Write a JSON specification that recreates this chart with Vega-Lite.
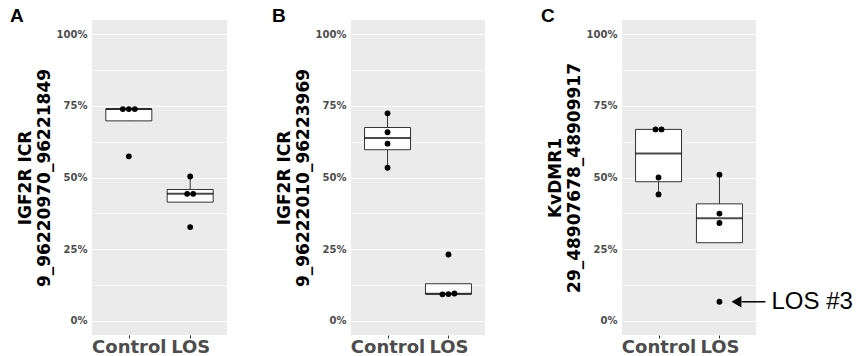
{
  "$schema": "https://vega.github.io/schema/vega-lite/v6.json",
  "background": "white",
  "padding": {"left": 10, "top": 7, "right": 0, "bottom": 0},
  "datasets": {
    "d": [
      {"panel": "A", "group": "Control", "value": 57.4, "dodge": 0},
      {"panel": "A", "group": "Control", "value": 73.9, "dodge": -1},
      {"panel": "A", "group": "Control", "value": 73.9, "dodge": 0},
      {"panel": "A", "group": "Control", "value": 73.9, "dodge": 1},
      {"panel": "A", "group": "LOS", "value": 32.7, "dodge": 0},
      {"panel": "A", "group": "LOS", "value": 44.3, "dodge": -0.5},
      {"panel": "A", "group": "LOS", "value": 44.3, "dodge": 0.5},
      {"panel": "A", "group": "LOS", "value": 50.35, "dodge": 0},
      {"panel": "B", "group": "Control", "value": 53.4, "dodge": 0},
      {"panel": "B", "group": "Control", "value": 61.8, "dodge": 0},
      {"panel": "B", "group": "Control", "value": 65.8, "dodge": 0},
      {"panel": "B", "group": "Control", "value": 72.4, "dodge": 0},
      {"panel": "B", "group": "LOS", "value": 9.2, "dodge": -1},
      {"panel": "B", "group": "LOS", "value": 9.3, "dodge": 0},
      {"panel": "B", "group": "LOS", "value": 9.5, "dodge": 1},
      {"panel": "B", "group": "LOS", "value": 23.1, "dodge": 0},
      {"panel": "C", "group": "Control", "value": 44.1, "dodge": 0},
      {"panel": "C", "group": "Control", "value": 50.0, "dodge": 0},
      {"panel": "C", "group": "Control", "value": 66.8, "dodge": -0.5},
      {"panel": "C", "group": "Control", "value": 66.8, "dodge": 0.5},
      {"panel": "C", "group": "LOS", "value": 6.6, "dodge": 0},
      {"panel": "C", "group": "LOS", "value": 34.1, "dodge": 0},
      {"panel": "C", "group": "LOS", "value": 37.4, "dodge": 0},
      {"panel": "C", "group": "LOS", "value": 51.0, "dodge": 0}
    ],
    "note": [
      {"group": "LOS", "value": 6.6, "label": "LOS #3"}
    ]
  },
  "hconcat": [
    {
      "spacing": 45,
      "hconcat": [
        {
          "width": 135,
          "height": 315,
          "title": {"text": "A", "anchor": "start", "frame": "group", "dx": -82, "dy": 4, "offset": -17, "baseline": "alphabetic", "font": "Liberation Sans", "fontSize": 19, "fontWeight": "bold", "color": "black"},
          "data": {"name": "d"},
          "transform": [{"filter": "datum.panel === 'A'"}],
          "encoding": {
            "x": {"field": "group", "type": "nominal", "scale": {"type": "point", "padding": 0.6}, "axis": {"title": null, "labelOverlap": false}},
            "y": {"field": "value", "type": "quantitative", "scale": {"domain": [-5, 105], "nice": false, "zero": false}, "axis": {"title": ["IGF2R ICR", "9_96220970_96221849"], "values": [0, 12.5, 25, 37.5, 50, 62.5, 75, 87.5, 100], "labelOverlap": false, "labelBound": false}}
          },
          "layer": [
            {"mark": {"type": "boxplot", "extent": 1.5, "size": 46, "outliers": false, "ticks": false, "box": {"fill": "white", "stroke": "#333333", "strokeWidth": 1}, "median": {"color": "black", "thickness": 2}, "rule": {"color": "#333333", "strokeWidth": 1}}},
            {"mark": {"type": "circle", "size": 34, "color": "black", "opacity": 1}, "encoding": {"xOffset": {"field": "dodge", "type": "quantitative", "scale": {"domain": [-1, 1], "range": [-6, 6]}}}}
          ]
        },
        {
          "width": 134,
          "height": 315,
          "title": {"text": "B", "anchor": "start", "frame": "group", "dx": -79, "dy": 4, "offset": -17, "baseline": "alphabetic", "font": "Liberation Sans", "fontSize": 19, "fontWeight": "bold", "color": "black"},
          "data": {"name": "d"},
          "transform": [{"filter": "datum.panel === 'B'"}],
          "encoding": {
            "x": {"field": "group", "type": "nominal", "scale": {"type": "point", "padding": 0.6}, "axis": {"title": null, "labelOverlap": false}},
            "y": {"field": "value", "type": "quantitative", "scale": {"domain": [-5, 105], "nice": false, "zero": false}, "axis": {"title": ["IGF2R ICR", "9_96222010_96223969"], "values": [0, 12.5, 25, 37.5, 50, 62.5, 75, 87.5, 100], "labelOverlap": false, "labelBound": false}}
          },
          "layer": [
            {"mark": {"type": "boxplot", "extent": 1.5, "size": 46, "outliers": false, "ticks": false, "box": {"fill": "white", "stroke": "#333333", "strokeWidth": 1}, "median": {"color": "black", "thickness": 2}, "rule": {"color": "#333333", "strokeWidth": 1}}},
            {"mark": {"type": "circle", "size": 34, "color": "black", "opacity": 1}, "encoding": {"xOffset": {"field": "dodge", "type": "quantitative", "scale": {"domain": [-1, 1], "range": [-6, 6]}}}}
          ]
        }
      ]
    },
    {
      "width": 134,
      "height": 315,
      "title": {"text": "C", "anchor": "start", "frame": "group", "dx": -81, "dy": 4, "offset": -17, "baseline": "alphabetic", "font": "Liberation Sans", "fontSize": 19, "fontWeight": "bold", "color": "black"},
      "encoding": {
        "x": {"field": "group", "type": "nominal", "scale": {"type": "point", "padding": 0.6, "domain": ["Control", "LOS"]}, "axis": {"title": null, "labelOverlap": false}},
        "y": {"field": "value", "type": "quantitative", "scale": {"domain": [-5, 105], "nice": false, "zero": false}, "axis": {"title": ["KvDMR1", "29_48907678_48909917"], "values": [0, 12.5, 25, 37.5, 50, 62.5, 75, 87.5, 100], "labelOverlap": false, "labelBound": false}}
      },
      "layer": [
        {
          "data": {"name": "d"},
          "transform": [{"filter": "datum.panel === 'C'"}],
          "mark": {"type": "boxplot", "extent": 1.5, "size": 46, "outliers": false, "ticks": false, "box": {"fill": "white", "stroke": "#333333", "strokeWidth": 1}, "median": {"color": "black", "thickness": 2}, "rule": {"color": "#333333", "strokeWidth": 1}}
        },
        {
          "data": {"name": "d"},
          "transform": [{"filter": "datum.panel === 'C'"}],
          "mark": {"type": "circle", "size": 34, "color": "black", "opacity": 1},
          "encoding": {"xOffset": {"field": "dodge", "type": "quantitative", "scale": {"domain": [-1, 1], "range": [-6, 6]}}}
        },
        {
          "data": {"name": "note"},
          "mark": {"type": "rule", "color": "black", "strokeWidth": 1.5, "xOffset": 22, "x2Offset": 46},
          "encoding": {"x2": {"field": "group"}}
        },
        {
          "data": {"name": "note"},
          "mark": {"type": "point", "shape": "triangle-left", "filled": true, "color": "black", "opacity": 1, "size": 130, "xOffset": 17}
        },
        {
          "data": {"name": "note"},
          "mark": {"type": "text", "align": "left", "baseline": "middle", "dx": 52, "font": "Liberation Sans", "fontSize": 24, "color": "black"},
          "encoding": {"text": {"field": "label"}}
        }
      ]
    }
  ],
  "spacing": 56,
  "resolve": {"scale": {"x": "independent", "y": "independent"}},
  "config": {
    "view": {"stroke": null, "fill": "#EBEBEB"},
    "axis": {
      "domain": false,
      "gridColor": "white",
      "gridOpacity": 1,
      "tickColor": "#333333",
      "tickSize": 3,
      "labelFont": "DejaVu Sans",
      "labelFontWeight": "bold",
      "labelColor": "#4D4D4D",
      "titleFont": "DejaVu Sans",
      "titleFontWeight": "bold",
      "titleColor": "black"
    },
    "axisX": {
      "gridWidth": 1.2,
      "labelFontSize": 18,
      "labelPadding": 0,
      "labelAngle": 0
    },
    "axisY": {
      "labelExpr": "datum.value % 25 === 0 ? datum.value + '%' : ''",
      "labelFontSize": 10,
      "labelPadding": 2,
      "tickOpacity": {"condition": {"test": "datum.value % 25 === 0", "value": 1}, "value": 0},
      "gridWidth": {"condition": {"test": "datum.value % 25 === 0", "value": 1.2}, "value": 0.6},
      "titleFontSize": 17,
      "titleLineHeight": 19,
      "titlePadding": 3
    }
  }
}
